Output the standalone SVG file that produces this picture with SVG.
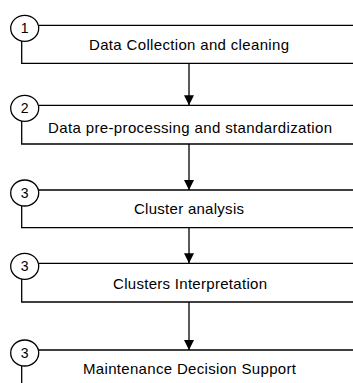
<svg xmlns="http://www.w3.org/2000/svg" width="353" height="383" viewBox="0 0 353 383">
<defs>
<style>
.box{fill:none;stroke:#000;stroke-width:1.3}
.c{fill:#fff;stroke:#000;stroke-width:1.3}
.lbl{font-family:"Liberation Sans",Arial,sans-serif;font-size:15px;fill:#000;text-anchor:middle}
.num{font-family:"Liberation Sans",Arial,sans-serif;font-size:14px;fill:#000;text-anchor:middle}
.conn{stroke:#000;stroke-width:1.3;fill:none}
</style>
<marker id="ah" markerWidth="10" markerHeight="10" refX="10" refY="5" orient="auto" markerUnits="userSpaceOnUse">
<path d="M0,0 L10,5 L0,10 Z" fill="#000"/>
</marker>
</defs>
<rect width="353" height="383" fill="#fff"/>
<g id="connectors">
<line class="conn" x1="189" y1="63.3" x2="189" y2="105.3" marker-end="url(#ah)"/>
<line class="conn" x1="189" y1="144" x2="189" y2="190" marker-end="url(#ah)"/>
<line class="conn" x1="189" y1="227.7" x2="189" y2="263.3" marker-end="url(#ah)"/>
<line class="conn" x1="189" y1="302" x2="189" y2="350" marker-end="url(#ah)"/>
</g>
<g id="step1">
<path class="box" d="M38.7,25.3 H360 M21.7,41 V63.3 H360"/>
<ellipse class="c" cx="24.7" cy="28.3" rx="14" ry="13"/>
<text class="num" x="24.7" y="33.3">1</text>
<text class="lbl" x="189" y="50" textLength="200" lengthAdjust="spacing">Data Collection and cleaning</text>
</g>
<g id="step2">
<path class="box" d="M38.7,105.3 H360 M21.7,121 V144 H360"/>
<ellipse class="c" cx="24.7" cy="108.3" rx="14" ry="13"/>
<text class="num" x="24.7" y="113.3">2</text>
<text class="lbl" x="190" y="133" textLength="284" lengthAdjust="spacing">Data pre-processing and standardization</text>
</g>
<g id="step3">
<path class="box" d="M38.7,190 H360 M21.7,206 V227.7 H360"/>
<ellipse class="c" cx="24.7" cy="193" rx="14" ry="13"/>
<text class="num" x="24.7" y="198">3</text>
<text class="lbl" x="189" y="214" textLength="110" lengthAdjust="spacing">Cluster analysis</text>
</g>
<g id="step4">
<path class="box" d="M38.7,263.3 H360 M21.7,279 V302 H360"/>
<ellipse class="c" cx="24.7" cy="266.3" rx="14" ry="13"/>
<text class="num" x="24.7" y="271.3">3</text>
<text class="lbl" x="190" y="289" textLength="154" lengthAdjust="spacing">Clusters Interpretation</text>
</g>
<g id="step5">
<path class="box" d="M38.7,350 H360 M21.7,366 V390"/>
<ellipse class="c" cx="24.7" cy="353" rx="14" ry="13"/>
<text class="num" x="24.7" y="358">3</text>
<text class="lbl" x="189.5" y="374" textLength="213" lengthAdjust="spacing">Maintenance Decision Support</text>
</g>
</svg>
